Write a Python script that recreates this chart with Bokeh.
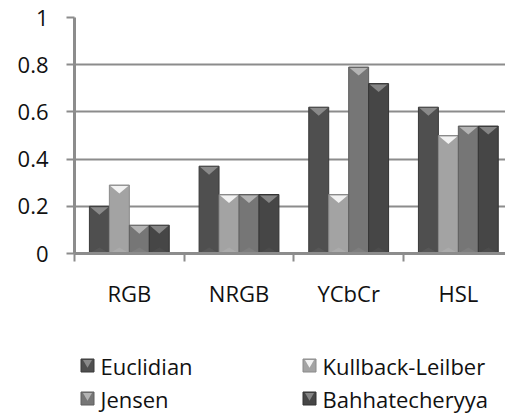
import numpy as np
from bokeh.plotting import figure
from bokeh.layouts import column
from bokeh.models import Range1d, FixedTicker, ColumnDataSource
from bokeh.core.properties import value
from bokeh.embed import file_html
from bokeh.resources import INLINE

categories = ["RGB", "NRGB", "YCbCr", "HSL"]
series_names = ["Euclidian", "Kullback-Leilber", "Jensen", "Bahhatecheryya"]
euclidian = [0.20, 0.37, 0.62, 0.62]
kullback = [0.29, 0.25, 0.25, 0.50]
jensen = [0.12, 0.25, 0.79, 0.54]
bahhatecheryya = [0.12, 0.25, 0.72, 0.54]
y_ticks = [0, 0.2, 0.4, 0.6, 0.8, 1]
y_labels = ["0", "0.2", "0.4", "0.6", "0.8", "1"]

series = [euclidian, kullback, jensen, bahhatecheryya]
fills = ["#4f4f4f", "#a3a3a3", "#767676", "#464646"]
tops = ["#8a8a8a", "#f2f2f2", "#b4b4b4", "#858585"]
bottoms = ["#575757", "#ababab", "#7e7e7e", "#4c4c4c"]
edges = ["#3a3a3a", "#8a8a8a", "#5e5e5e", "#333333"]

FONT = "Open Sans"
W = 505
LEFT = 74
p = figure(frame_width=W - LEFT, frame_height=236, output_backend="svg", toolbar_location=None,
           x_range=Range1d(0, 3.93), y_range=Range1d(0, 1),
           min_border_left=LEFT, min_border_right=0, min_border_top=17, min_border_bottom=70)
p.outline_line_color = None
p.background_fill_color = "white"

n = len(categories)
bw = 0.182
offsets = (np.arange(4) - 1.5) * bw
centers = np.arange(n) + 0.5
tri_h = 0.036

for k, vals in enumerate(series):
    x = centers + offsets[k]
    v = np.array(vals)
    src = ColumnDataSource(dict(x=x, top=v))
    p.vbar(x="x", top="top", bottom=0, width=bw, source=src,
           fill_color=fills[k], line_color=edges[k], line_width=1)
    xs_t = [[xi - bw / 2 + 0.01, xi + bw / 2 - 0.01, xi] for xi in x]
    ys_t = [[vi - 0.004, vi - 0.004, vi - tri_h] for vi in v]
    p.patches(xs_t, ys_t, fill_color=tops[k], line_color=None)
    ys_b = [[0.003, 0.003, tri_h * 0.7] for vi in v]
    p.patches(xs_t, ys_b, fill_color=bottoms[k], line_color=None)

# axes
p.yaxis.ticker = FixedTicker(ticks=y_ticks)
p.yaxis.major_label_overrides = {t: l for t, l in zip(y_ticks, y_labels)}
p.yaxis.major_label_text_font = FONT
p.yaxis.major_label_text_font_size = "22px"
p.yaxis.major_label_text_color = "#111111"
p.yaxis.major_tick_out = 8
p.yaxis.major_tick_in = 0
p.yaxis.minor_tick_line_color = None
p.yaxis.axis_line_color = "#8c8c8c"
p.yaxis.axis_line_width = 3
p.yaxis.major_tick_line_color = "#8c8c8c"
p.yaxis.major_tick_line_width = 2
p.yaxis.major_label_standoff = 18

p.xaxis.ticker = FixedTicker(ticks=list(centers), minor_ticks=list(np.arange(n)))
p.xaxis.major_label_overrides = {float(c): l for c, l in zip(centers, categories)}
p.xaxis.major_label_text_font = FONT
p.xaxis.major_label_text_font_size = "22px"
p.xaxis.major_label_text_color = "#111111"
p.xaxis.major_tick_out = 0
p.xaxis.major_tick_in = 0
p.xaxis.major_tick_line_color = None
p.xaxis.minor_tick_out = 8
p.xaxis.minor_tick_in = 0
p.xaxis.minor_tick_line_color = "#8c8c8c"
p.xaxis.minor_tick_line_width = 2
p.xaxis.axis_line_color = "#8c8c8c"
p.xaxis.axis_line_width = 3
p.xaxis.major_label_standoff = 16

p.xgrid.grid_line_color = None
p.ygrid.ticker = FixedTicker(ticks=y_ticks)
p.ygrid.grid_line_color = "#8c8c8c"
p.ygrid.grid_line_width = 2

# legend as a separate strip (pixel coordinates; frame aligned with main frame)
LH = 91
lg = figure(frame_width=W - LEFT, frame_height=LH, output_backend="svg", toolbar_location=None,
            x_range=Range1d(LEFT, W), y_range=Range1d(0, LH),
            min_border_left=LEFT, min_border_right=0, min_border_top=0, min_border_bottom=0,
            x_axis_type=None, y_axis_type=None)
lg.outline_line_color = None
lg.xgrid.grid_line_color = None
lg.ygrid.grid_line_color = None

col_x = [87, 309]
row_y = [49, 16]
mx = [col_x[i % 2] for i in range(4)]
my = [row_y[i // 2] for i in range(4)]
lsrc = ColumnDataSource(dict(x=mx, y=my, tx=[xx + 13 for xx in mx],
                             ty=[yy + 3 for yy in my], label=series_names,
                             fill=fills, top=tops, edge=edges))
lg.scatter("x", "y", marker="square", size=13, fill_color="fill", line_color="edge",
           source=lsrc)
lg.scatter("x", "ty", marker="inverted_triangle", size=9, fill_color="top",
           line_color=None, source=lsrc)
lg.text("tx", "y", text="label", source=lsrc, text_font=value(FONT),
        text_font_size="22px", text_color="#111111", text_baseline="middle",
        text_align="left")

open("out.html", "w").write(file_html(column(p, lg, spacing=0), INLINE))
